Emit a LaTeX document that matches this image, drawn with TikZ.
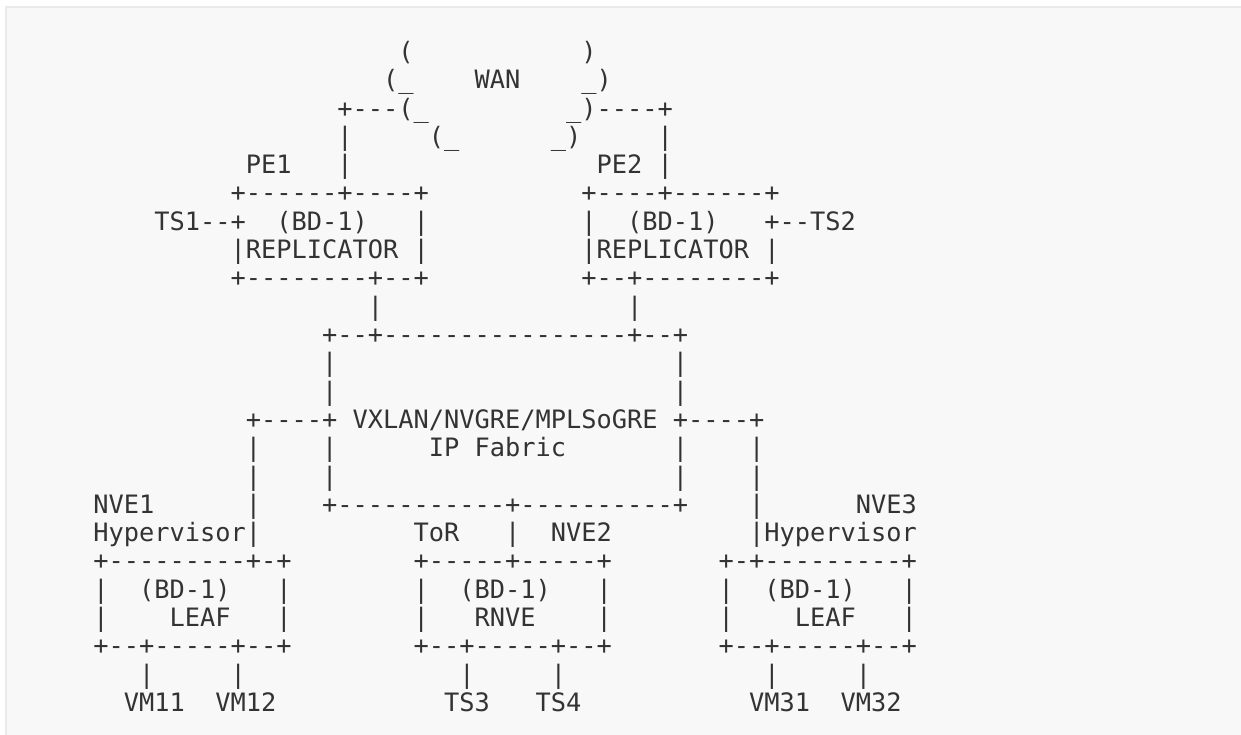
\documentclass[tikz,border=0pt]{standalone}
\usepackage{fontspec}
\setmonofont{DejaVu Sans Mono}

\definecolor{codebg}{HTML}{F8F8F8}
\definecolor{codeframe}{HTML}{EAEAEA}
\definecolor{codetext}{HTML}{333333}

\tikzset{ascii/.style={anchor=base west, inner sep=0pt, outer sep=0pt, text=codetext,
  font=\ttfamily\fontsize{25.33}{28.3}\selectfont}}

\begin{document}
\begin{tikzpicture}[x=15.25pt,y=-28.3pt]
\useasboundingbox (0pt,0pt) rectangle (1241pt,-735pt);
\fill[codeframe] (5pt,-6.5pt) rectangle (1241pt,-735pt);
\fill[codebg] (6.5pt,-8pt) rectangle (1241pt,-735pt);

\begin{scope}[shift={(93.4pt,-60.5pt)}]
% WAN cloud
\node[ascii](wanA) at (20,0){(};
\node[ascii](wanB) at (32,0){)};
\node[ascii](wanC) at (19,1){(\_};
\node[ascii](wan) at (25,1){WAN};
\node[ascii](wanD) at (32,1){\_)};
\node[ascii](wanE) at (16,2){+---(\_};
\node[ascii](wanF) at (31,2){\_)----+};
\node[ascii](pe1up) at (16,3){|};
\node[ascii](wanG) at (22,3){(\_};
\node[ascii](wanH) at (30,3){\_)};
\node[ascii](pe2up) at (37,3){|};

% PE1 and PE2
\node[ascii](pe1) at (10,4){PE1};
\node[ascii](pe1in) at (16,4){|};
\node[ascii](pe2) at (33,4){PE2 |};
\node[ascii](pe1top) at (9,5){+------+----+};
\node[ascii](pe2top) at (32,5){+----+------+};
\node[ascii](ts1) at (4,6){TS1--+};
\node[ascii](bdA) at (12,6){(BD-1)};
\node[ascii](pe1r) at (21,6){|};
\node[ascii](pe2l) at (32,6){|};
\node[ascii](bdB) at (35,6){(BD-1)};
\node[ascii](ts2) at (44,6){+--TS2};
\node[ascii](rep1) at (9,7){|REPLICATOR |};
\node[ascii](rep2) at (32,7){|REPLICATOR |};
\node[ascii](pe1bot) at (9,8){+--------+--+};
\node[ascii](pe2bot) at (32,8){+--+--------+};
\node[ascii](pe1dn) at (18,9){|};
\node[ascii](pe2dn) at (35,9){|};

% IP fabric
\node[ascii](fabtop) at (15,10){+--+----------------+--+};
\node[ascii](fabl1) at (15,11){|};
\node[ascii](fabr1) at (38,11){|};
\node[ascii](fabl2) at (15,12){|};
\node[ascii](fabr2) at (38,12){|};
\node[ascii](fab) at (10,13){+----+ VXLAN/NVGRE/MPLSoGRE +----+};
\node[ascii](nve1l1) at (10,14){|};
\node[ascii](fabl3) at (15,14){|};
\node[ascii](ipfab) at (22,14){IP Fabric};
\node[ascii](fabr3) at (38,14){|};
\node[ascii](nve3l1) at (43,14){|};
\node[ascii](nve1l2) at (10,15){|};
\node[ascii](fabl4) at (15,15){|};
\node[ascii](fabr4) at (38,15){|};
\node[ascii](nve3l2) at (43,15){|};
\node[ascii](nve1) at (0,16){NVE1};
\node[ascii](nve1l3) at (10,16){|};
\node[ascii](fabbot) at (15,16){+-----------+----------+};
\node[ascii](nve3l3) at (43,16){|};
\node[ascii](nve3) at (50,16){NVE3};

% NVE boxes
\node[ascii](hyp1) at (0,17){Hypervisor|};
\node[ascii](tor) at (21,17){ToR};
\node[ascii](torl) at (27,17){|};
\node[ascii](nve2) at (30,17){NVE2};
\node[ascii](hyp3) at (43,17){|Hypervisor};
\node[ascii](leaf1top) at (0,18){+---------+-+};
\node[ascii](rnvetop) at (21,18){+-----+-----+};
\node[ascii](leaf3top) at (41,18){+-+---------+};
\node[ascii](leaf1a) at (0,19){|};
\node[ascii](bdC) at (3,19){(BD-1)};
\node[ascii](leaf1b) at (12,19){|};
\node[ascii](rnvea) at (21,19){|};
\node[ascii](bdD) at (24,19){(BD-1)};
\node[ascii](rnveb) at (33,19){|};
\node[ascii](leaf3a) at (41,19){|};
\node[ascii](bdE) at (44,19){(BD-1)};
\node[ascii](leaf3b) at (53,19){|};
\node[ascii](leaf1c) at (0,20){|};
\node[ascii](leaf1) at (5,20){LEAF};
\node[ascii](leaf1d) at (12,20){|};
\node[ascii](rnvec) at (21,20){|};
\node[ascii](rnve) at (25,20){RNVE};
\node[ascii](rnved) at (33,20){|};
\node[ascii](leaf3c) at (41,20){|};
\node[ascii](leaf3) at (46,20){LEAF};
\node[ascii](leaf3d) at (53,20){|};
\node[ascii](leaf1bot) at (0,21){+--+-----+--+};
\node[ascii](rnvebot) at (21,21){+--+-----+--+};
\node[ascii](leaf3bot) at (41,21){+--+-----+--+};

% attached systems
\node[ascii](vm11l) at (3,22){|};
\node[ascii](vm12l) at (9,22){|};
\node[ascii](ts3l) at (24,22){|};
\node[ascii](ts4l) at (30,22){|};
\node[ascii](vm31l) at (44,22){|};
\node[ascii](vm32l) at (50,22){|};
\node[ascii](vm11) at (2,23){VM11};
\node[ascii](vm12) at (8,23){VM12};
\node[ascii](ts3) at (23,23){TS3};
\node[ascii](ts4) at (29,23){TS4};
\node[ascii](vm31) at (43,23){VM31};
\node[ascii](vm32) at (49,23){VM32};
\end{scope}
\end{tikzpicture}
\end{document}
